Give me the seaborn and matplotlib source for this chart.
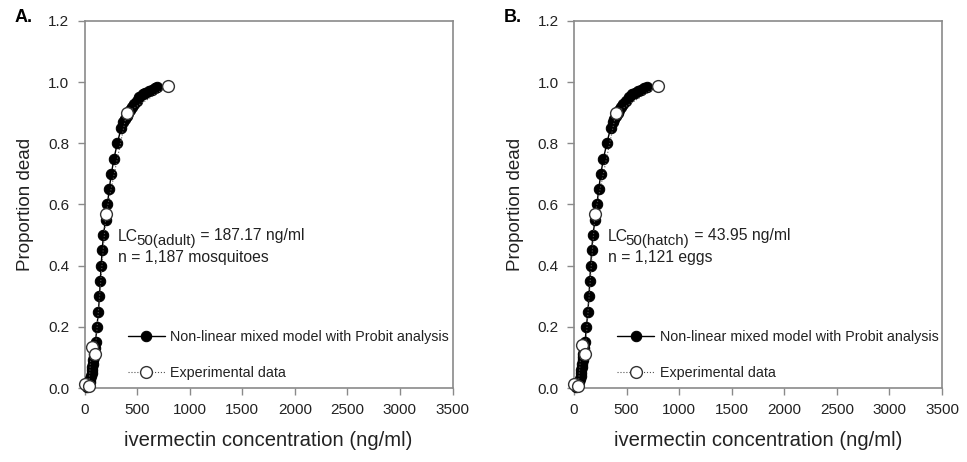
import numpy as np
import pandas as pd
import matplotlib
matplotlib.use("Agg")
import matplotlib.pyplot as plt
import seaborn as sns

sns.set_theme(style="white")
plt.rcParams["font.family"] = ["Liberation Sans", "DejaVu Sans"]

# ---- data ----
# fitted probit model points (filled markers)
model_conc_a = [20, 30, 42, 50, 56, 62, 67, 71, 75, 79, 82, 86, 89, 93, 96,
                105, 118, 132, 142, 150, 158, 168, 180, 200, 218, 235, 255, 280, 312, 348,
                370, 385, 400, 415, 432, 450, 470, 495, 520, 555, 580, 610, 640, 670, 690]
model_prop_a = [0.003, 0.005, 0.01, 0.02, 0.03, 0.04, 0.05, 0.06, 0.07, 0.08, 0.09, 0.10, 0.11, 0.12, 0.13,
                0.15, 0.20, 0.25, 0.30, 0.35, 0.40, 0.45, 0.50, 0.55, 0.60, 0.65, 0.70, 0.75, 0.80, 0.85,
                0.87, 0.88, 0.89, 0.90, 0.91, 0.92, 0.93, 0.94, 0.95, 0.96, 0.965, 0.97, 0.975, 0.98, 0.985]
model_conc_b = model_conc_a
model_prop_b = model_prop_a

# experimental data (open markers)
exp_conc_a = [0, 40, 68, 100, 205, 402, 795]
exp_prop_a = [0.012, 0.005, 0.135, 0.11, 0.57, 0.90, 0.987]
exp_conc_b = [0, 40, 72, 105, 200, 400, 795]
exp_prop_b = [0.012, 0.005, 0.14, 0.11, 0.57, 0.90, 0.987]

panel_letters = ["A.", "B."]
lc_subscripts = ["50(adult)", "50(hatch)"]
lc_values = [" = 187.17 ng/ml", " = 43.95 ng/ml"]
n_labels = ["n = 1,187 mosquitoes", "n = 1,121 eggs"]
legend_labels = ["Non-linear mixed model with Probit analysis", "Experimental data"]
x_ticks = [0, 500, 1000, 1500, 2000, 2500, 3000, 3500]
y_ticks = [0.0, 0.2, 0.4, 0.6, 0.8, 1.0, 1.2]

W, H = 967, 462
fig = plt.figure(figsize=(W / 100, H / 100), dpi=100)
spine_c = "#8a8a8a"
text_c = "#222222"

panels = [
    (model_conc_a, model_prop_a, exp_conc_a, exp_prop_a, 84.5),
    (model_conc_b, model_prop_b, exp_conc_b, exp_prop_b, 574),
]

for i, (mc, mp, ec, ep, left_px) in enumerate(panels):
    ax = fig.add_axes([left_px / W, 1 - 388 / H, 368 / W, (388 - 21) / H])
    dm = pd.DataFrame({"conc": mc, "prop": mp})
    de = pd.DataFrame({"conc": ec, "prop": ep})
    sns.lineplot(data=dm, x="conc", y="prop", ax=ax, sort=False, estimator=None,
                 color="black", lw=1.0, marker="o", markersize=7.5,
                 markerfacecolor="black", markeredgecolor="black",
                 label=legend_labels[0], clip_on=False, zorder=3)
    sns.lineplot(data=de, x="conc", y="prop", ax=ax, sort=False, estimator=None,
                 color="#555555", lw=0.8, linestyle=":", marker="o", markersize=8.5,
                 markerfacecolor="white", markeredgecolor="#333333", markeredgewidth=1.0,
                 label=legend_labels[1], clip_on=False, zorder=4)
    ax.set_xlim(0, 3500)
    ax.set_ylim(0, 1.2)
    ax.set_xticks(x_ticks)
    ax.set_yticks(y_ticks)
    ax.set_yticklabels([f"{v:.1f}" for v in y_ticks])
    ax.tick_params(axis="both", which="both", direction="out", length=5, width=1,
                   color=spine_c, labelsize=11, labelcolor=text_c, pad=6,
                   bottom=True, left=True, top=False, right=False)
    for s in ax.spines.values():
        s.set_color(spine_c)
        s.set_linewidth(1.2)
    ax.set_xlabel("ivermectin concentration (ng/ml)", fontsize=14.6, color=text_c, labelpad=10)
    ax.set_ylabel("Proportion dead", fontsize=13.5, color=text_c, labelpad=10)
    ax.grid(False)

    # LC50 annotation built from pieces (subscript nearly full size, lowered)
    fs = 11.3
    t1 = ax.text(33.5 / 368, 1 - (241 - 21) / 367, "LC", transform=ax.transAxes,
                 fontsize=fs, color=text_c, va="baseline", ha="left")
    t2 = ax.annotate(lc_subscripts[i], xy=(1, 0), xycoords=t1, xytext=(-1.2, -2.8),
                     textcoords="offset points", fontsize=10.8, color=text_c,
                     va="bottom", ha="left")
    ax.annotate(lc_values[i], xy=(1, 0), xycoords=t2, xytext=(0, 3.6),
                textcoords="offset points", fontsize=fs, color=text_c,
                va="bottom", ha="left")
    ax.text(33.5 / 368, 1 - (262 - 21) / 367, n_labels[i], transform=ax.transAxes,
            fontsize=fs, color=text_c, va="baseline", ha="left")

    leg = ax.legend(loc="upper left", bbox_to_anchor=(43 / 368, 1 - (330 - 21) / 367),
                    frameon=False, fontsize=10.3, handlelength=2.6, handletextpad=0.4,
                    labelspacing=1.55, borderpad=0, borderaxespad=0)
    for t in leg.get_texts():
        t.set_color(text_c)
    fig.text((left_px - 70) / W, 1 - 17 / H, panel_letters[i], fontsize=13,
             fontweight="bold", color="black", va="center", ha="left")

fig.savefig("out.png", dpi=100)
